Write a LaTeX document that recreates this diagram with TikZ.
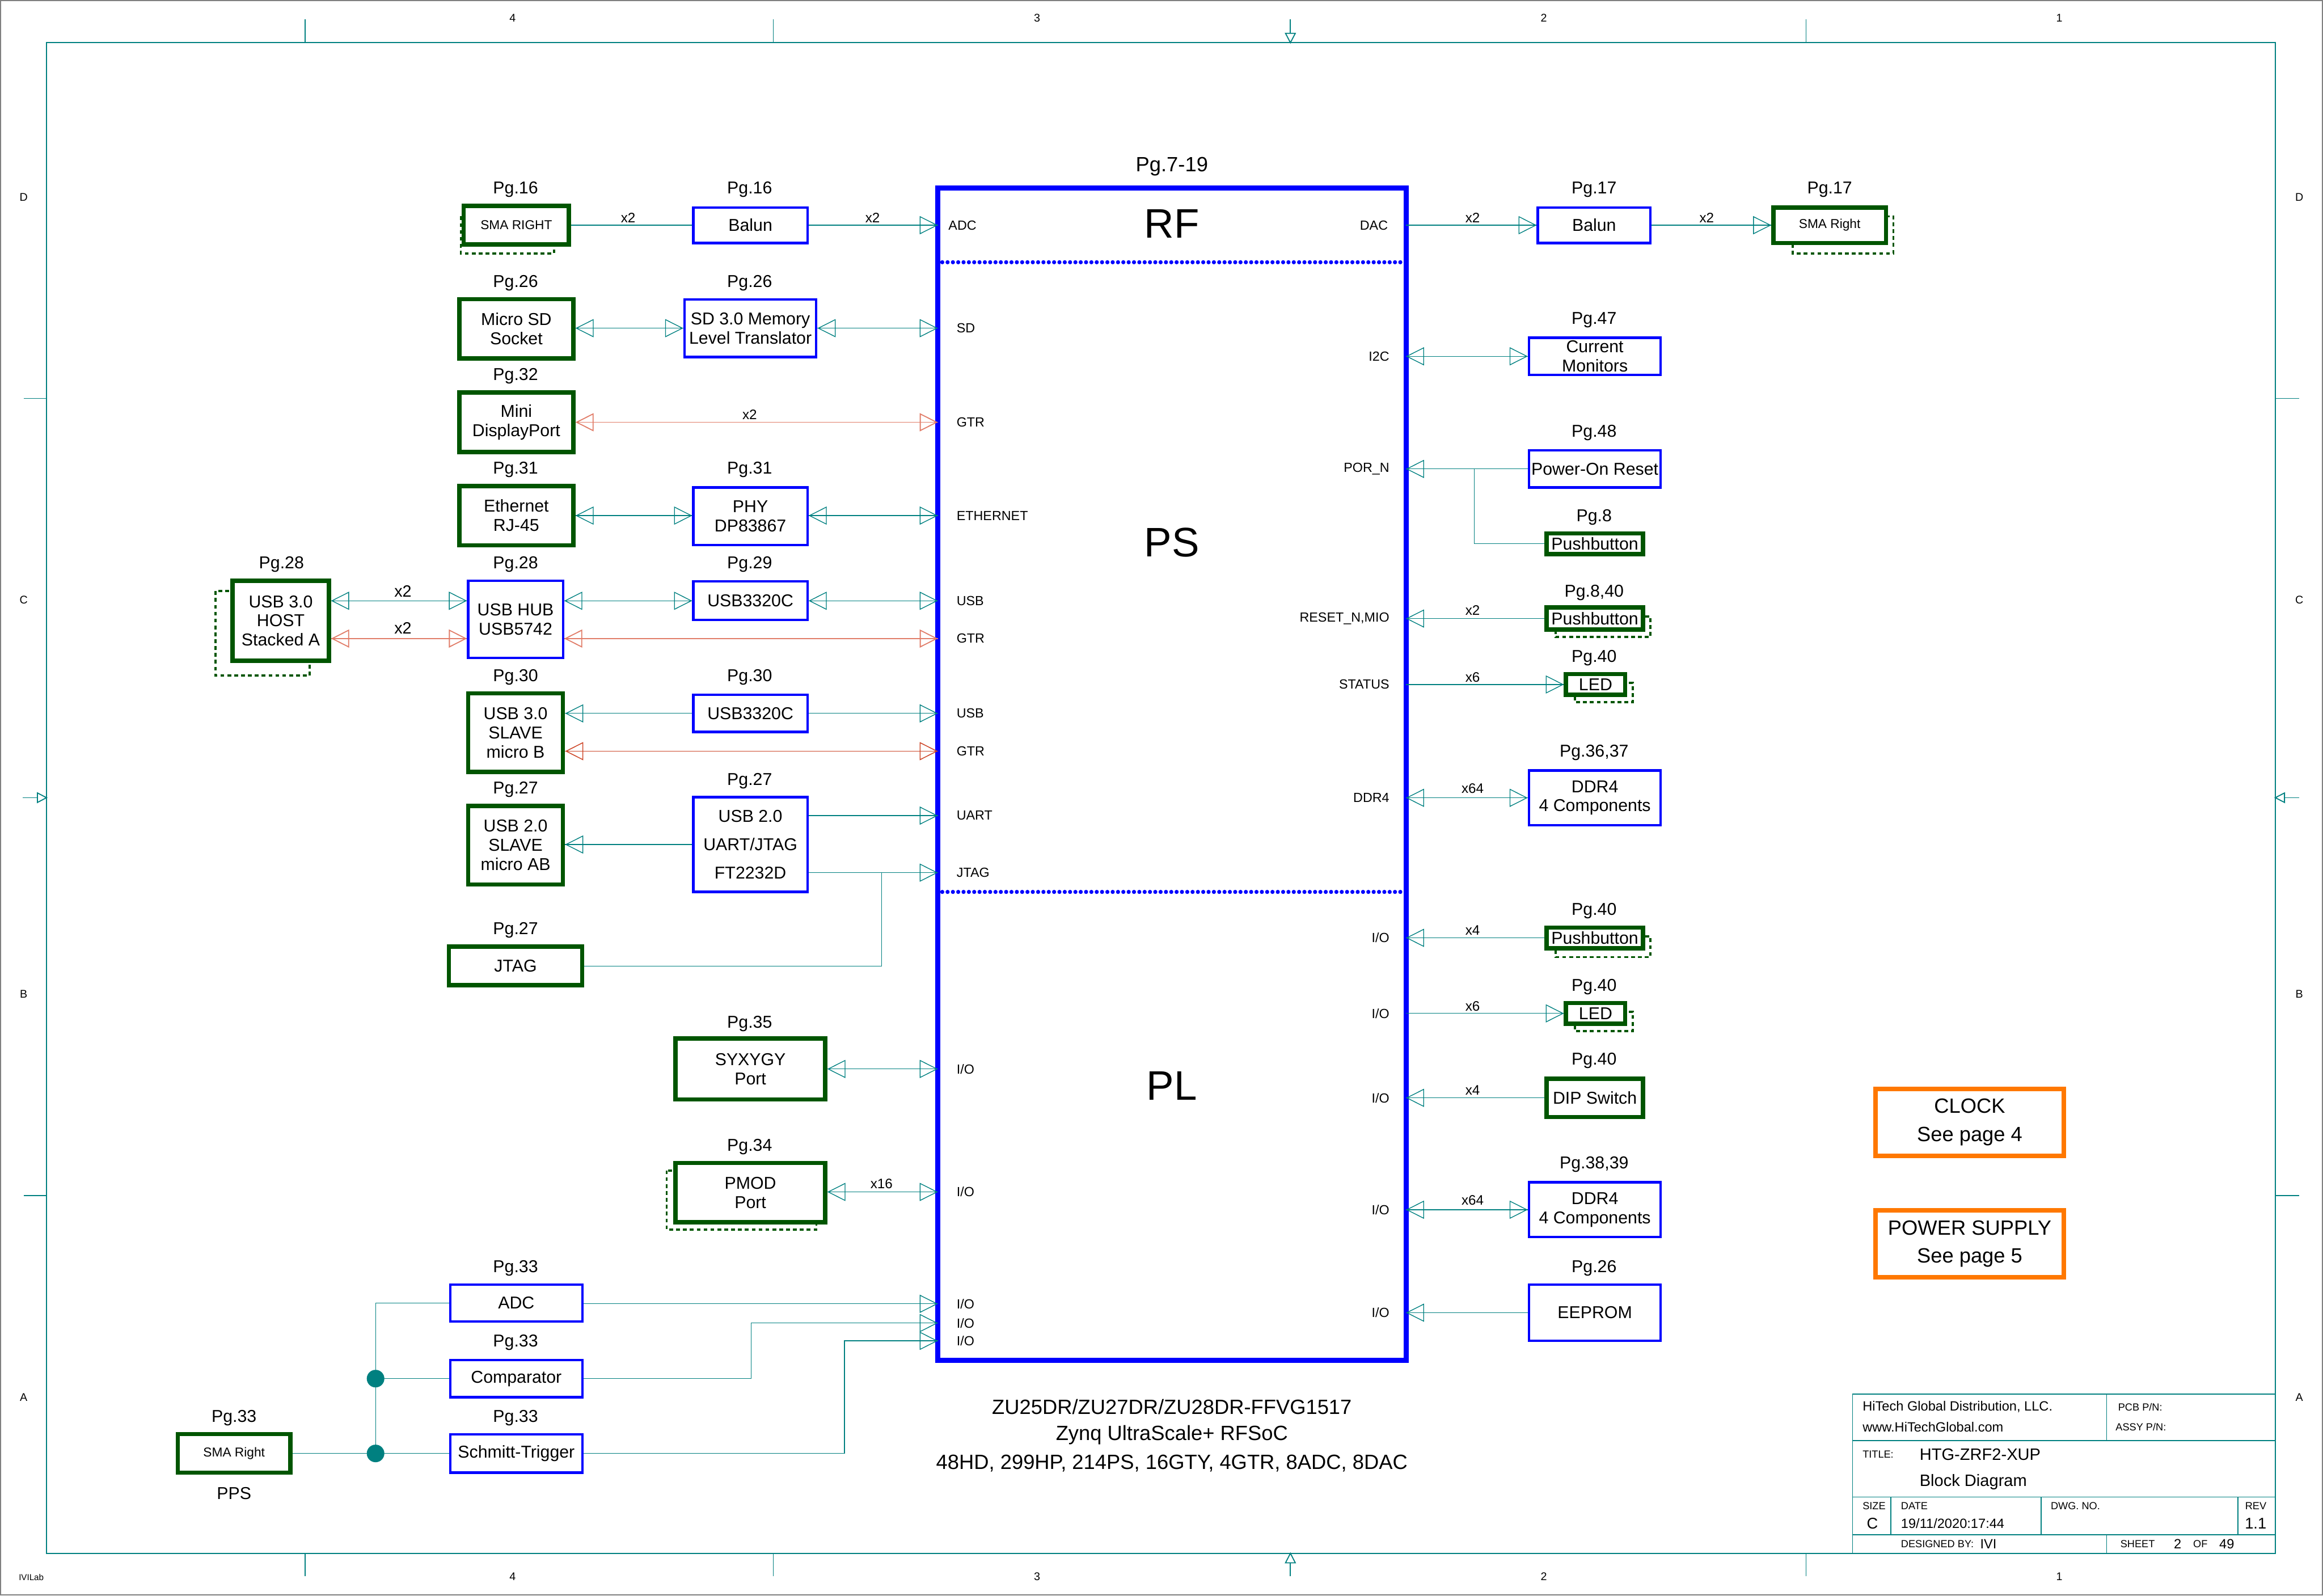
\documentclass[tikz,border=0pt]{standalone}
\usepackage{fontspec}
\setmainfont{Liberation Sans}
\usetikzlibrary{arrows.meta}
\definecolor{tealc}{RGB}{0,128,128}
\definecolor{gcol}{RGB}{0,85,0}
\definecolor{bcol}{RGB}{0,0,255}
\definecolor{ocol}{RGB}{255,120,0}
\definecolor{gtrc}{RGB}{225,125,105}
\definecolor{gtrd}{RGB}{205,70,40}
\def\U{0.30306mm}
\newcommand\fBox{\fontsize{10}{11.2}\selectfont}
\newcommand\fBoxW{\fontsize{10}{16.4}\selectfont}
\newcommand\fPg{\fontsize{10}{12}\selectfont}
\newcommand\fPin{\fontsize{7.7}{9}\selectfont}
\newcommand\fX{\fontsize{8}{9}\selectfont}
\newcommand\fXb{\fontsize{9.5}{11}\selectfont}
\newcommand\fSma{\fontsize{7.5}{9}\selectfont}
\newcommand\fBig{\fontsize{24}{28}\selectfont}
\newcommand\fChip{\fontsize{12}{14}\selectfont}
\newcommand\fOr{\fontsize{12}{16.4}\selectfont}
\newcommand\fTbS{\fontsize{6}{7}\selectfont}
\newcommand\fTbM{\fontsize{7.8}{9}\selectfont}
\newcommand\fTbL{\fontsize{9.6}{11}\selectfont}
\newcommand\fEdge{\fontsize{6.5}{7.5}\selectfont}
\newcommand\fTiny{\fontsize{5}{6}\selectfont}
\tikzset{
  sz/.style 2 args={minimum width=#1*\U, minimum height=#2*\U},
  gbox/.style={draw=gcol, line width=2.5pt, fill=white, inner sep=0pt, align=center, font=\fBox},
  bbox/.style={draw=bcol, line width=1.4pt, fill=white, inner sep=0pt, align=center, font=\fBox},
  obox/.style={draw=ocol, line width=2.6pt, fill=white, inner sep=0pt, align=center, font=\fOr},
  shadowbox/.style={draw=gcol, line width=1.2pt, dash pattern=on 2.2pt off 1.8pt},
  conn/.style={draw=tealc, line width=0.45pt, postaction={draw,-}},
  gtr/.style={draw=gtrc, line width=0.6pt, postaction={draw,-}},
  gtrdark/.style={draw=gtrd, line width=0.5pt, postaction={draw,-}},
  pg/.style={font=\fPg, inner sep=0pt, yshift=-0.3mm},
  pinl/.style={font=\fPin, inner sep=0pt, anchor=west},
  pinr/.style={font=\fPin, inner sep=0pt, anchor=east},
  xl/.style={font=\fX, inner sep=0pt},
  tb/.style={draw=tealc, line width=0.55pt},
  tick/.style={draw=tealc, line width=0.45pt},
  fmark/.style={draw=tealc, line width=0.6pt},
  sepline/.style={draw=bcol, line width=2.4pt, line cap=round, dash pattern=on 0pt off 3.1pt},
  dotj/.style={circle, fill=tealc, inner sep=0pt, minimum size=3.6mm},
  edge/.style={font=\fEdge, inner sep=0pt},
}
\begin{document}
\begin{tikzpicture}[x=0.30306mm, y=-0.30306mm, >={Triangle[open,length=3.7mm,width=3.7mm]}]
\useasboundingbox (0,0) rectangle (1568,1077);
\draw[gray, line width=0.6pt] (0.5,0.5) rectangle (1567.5,1076.5);

% ---------- sheet frame ----------
\draw[draw=tealc, line width=0.6pt] (31.4,28.8) rectangle (1535.8,1048.4);
\foreach \x in {206,522,1219} {
  \draw[tick] (\x,13) -- (\x,28.8);
  \draw[tick] (\x,1048.4) -- (\x,1064);
}
\foreach \y in {269,807} {
  \draw[tick] (16,\y) -- (31.4,\y);
  \draw[tick] (1535.8,\y) -- (1552,\y);
}
\draw[fmark] (871,13) -- (871,22.5);
\draw[fmark] (867.7,22.5) -- (874.3,22.5) -- (871,28.8) -- cycle;
\draw[fmark] (871,1064) -- (871,1054.8);
\draw[fmark] (867.7,1054.8) -- (874.3,1054.8) -- (871,1048.4) -- cycle;
\draw[fmark] (15.4,538.4) -- (25.3,538.4);
\draw[fmark] (25.3,535.2) -- (25.3,541.6) -- (31.4,538.4) -- cycle;
\draw[fmark] (1552,538.4) -- (1542,538.4);
\draw[fmark] (1542,535.2) -- (1542,541.6) -- (1535.8,538.4) -- cycle;
\node[edge] (c4t) at (346,12) {4};
\node[edge] (c3t) at (700,12) {3};
\node[edge] (c2t) at (1042,12) {2};
\node[edge] (c1t) at (1390,12) {1};
\node[edge] (c4b) at (346,1064) {4};
\node[edge] (c3b) at (700,1064) {3};
\node[edge] (c2b) at (1042,1064) {2};
\node[edge] (c1b) at (1390,1064) {1};
\node[edge] (rDl) at (16,133) {D};
\node[edge] (rCl) at (16,405) {C};
\node[edge] (rBl) at (16,671) {B};
\node[edge] (rAl) at (16,943) {A};
\node[edge] (rDr) at (1552,133) {D};
\node[edge] (rCr) at (1552,405) {C};
\node[edge] (rBr) at (1552,671) {B};
\node[edge] (rAr) at (1552,943) {A};
\node[font=\fTiny, inner sep=0pt, anchor=west] (ivilab) at (12.5,1064.5) {IVILab};

% ---------- main device ----------
\node[draw=bcol, line width=3pt, sz={316}{791}] (chip) at (791,522.5) {};
\draw[sepline] (636,177) -- (946,177);
\draw[sepline] (636,602) -- (946,602);
\node[font=\fontsize{12}{14}\selectfont, inner sep=0pt] (pgchip) at (791,112.5) {Pg.7-19};
\node[font=\fBig, inner sep=0pt] (rf) at (791,151) {RF};
\node[font=\fBig, inner sep=0pt] (ps) at (791,366) {PS};
\node[font=\fBig, inner sep=0pt] (pl) at (791,733) {PL};
\node[font=\fChip, inner sep=0pt] (d1) at (791,949.5) {ZU25DR/ZU27DR/ZU28DR-FFVG1517};
\node[font=\fChip, inner sep=0pt] (d2) at (791,968.5) {Zynq UltraScale+ RFSoC};
\node[font=\fChip, inner sep=0pt] (d3) at (791,987.5) {48HD, 299HP, 214PS, 16GTY, 4GTR, 8ADC, 8DAC};

% left pins
\node[pinl] (pADC) at (640,152) {ADC};
\node[pinl] (pSD) at (645.5,221.5) {SD};
\node[pinl] (pGTR1) at (645.5,285) {GTR};
\node[pinl] (pETH) at (645.5,348) {ETHERNET};
\node[pinl] (pUSB1) at (645.5,405.5) {USB};
\node[pinl] (pGTR2) at (645.5,431) {GTR};
\node[pinl] (pUSB2) at (645.5,481.5) {USB};
\node[pinl] (pGTR3) at (645.5,507) {GTR};
\node[pinl] (pUART) at (645.5,550.5) {UART};
\node[pinl] (pJTAG) at (645.5,589) {JTAG};
\node[pinl] (pIO1) at (645.5,721.5) {I/O};
\node[pinl] (pIO2) at (645.5,804.5) {I/O};
\node[pinl] (pIO3) at (645.5,880) {I/O};
\node[pinl] (pIO4) at (645.5,893) {I/O};
\node[pinl] (pIO5) at (645.5,905) {I/O};
% right pins
\node[pinr] (pDAC) at (937,152) {DAC};
\node[pinr] (pI2C) at (938,240.5) {I2C};
\node[pinr] (pPOR) at (938,316.5) {POR\_N};
\node[pinr] (pRST) at (938,417.5) {RESET\_N,MIO};
\node[pinr] (pSTA) at (938,462) {STATUS};
\node[pinr] (pDDR) at (938,538.5) {DDR4};
\node[pinr] (pIOr1) at (938,633) {I/O};
\node[pinr] (pIOr2) at (938,684) {I/O};
\node[pinr] (pIOr3) at (938,741) {I/O};
\node[pinr] (pIOr4) at (938,816.5) {I/O};
\node[pinr] (pIOr5) at (938,886) {I/O};

% chip edge points
\coordinate (cADC) at (633,152);
\coordinate (cSD) at (633,221.5);
\coordinate (cGTR1) at (633,285);
\coordinate (cETH) at (633,348);
\coordinate (cUSB1) at (633,405.5);
\coordinate (cGTR2) at (633,431);
\coordinate (cUSB2) at (633,481.5);
\coordinate (cGTR3) at (633,507);
\coordinate (cUART) at (633,550.5);
\coordinate (cJTAG) at (633,589);
\coordinate (cIO1) at (633,721.5);
\coordinate (cIO2) at (633,804.5);
\coordinate (cIO3) at (633,880);
\coordinate (cIO4) at (633,893);
\coordinate (cIO5) at (633,905);
\coordinate (cDAC) at (949,152);
\coordinate (cI2C) at (949,240.5);
\coordinate (cPOR) at (949,316.5);
\coordinate (cRST) at (949,417.5);
\coordinate (cSTA) at (949,462);
\coordinate (cDDR) at (949,538.5);
\coordinate (cIOr1) at (949,633);
\coordinate (cIOr2) at (949,684);
\coordinate (cIOr3) at (949,741);
\coordinate (cIOr4) at (949,816.5);
\coordinate (cIOr5) at (949,886);

% ---------- dashed shadows ----------
\draw[shadowbox] (311,146) rectangle (374,171);
\draw[shadowbox] (145.5,399) rectangle (209,456);
\draw[shadowbox] (450,790) rectangle (551,830);
\draw[shadowbox] (1210,146) rectangle (1278,171);
\draw[shadowbox] (1050,416) rectangle (1114,430);
\draw[shadowbox] (1063,461) rectangle (1102,474);
\draw[shadowbox] (1050,632) rectangle (1114,646);
\draw[shadowbox] (1063,683) rectangle (1102,696);

% ---------- left blocks ----------
\node[pg] (g1) at (348,127) {Pg.16};
\node[gbox, sz={71}{26}, font=\fSma] (smaL) at (348.5,152) {SMA RIGHT};
\node[pg] (g2) at (506,127) {Pg.16};
\node[bbox, sz={77}{24}] (balL) at (506.5,152) {Balun};
\node[pg] (g3) at (348,190) {Pg.26};
\node[gbox, sz={77}{40}] (msd) at (348.5,222) {Micro SD\\Socket};
\node[pg] (g4) at (506,190) {Pg.26};
\node[bbox, sz={89}{39}] (sdt) at (506.5,221.5) {SD 3.0 Memory\\Level Translator};
\node[pg] (g5) at (348,253) {Pg.32};
\node[gbox, sz={77}{40}] (mdp) at (348.5,285) {Mini\\DisplayPort};
\node[pg] (g6) at (348,316) {Pg.31};
\node[gbox, sz={77}{40}] (eth) at (348.5,348) {Ethernet\\RJ-45};
\node[pg] (g7) at (506,316) {Pg.31};
\node[bbox, sz={77}{39}] (phy) at (506.5,348.5) {PHY\\DP83867};
\node[pg] (g8) at (190,380) {Pg.28};
\node[gbox, sz={65}{54}] (host) at (189.5,419) {USB 3.0\\HOST\\Stacked A};
\node[pg] (g9) at (348,380) {Pg.28};
\node[bbox, sz={64}{52}] (hub) at (348,418) {USB HUB\\USB5742};
\node[pg] (g10) at (506,380) {Pg.29};
\node[bbox, sz={77}{26}] (u29) at (506.5,405.5) {USB3320C};
\node[pg] (g11) at (348,456) {Pg.30};
\node[gbox, sz={64}{53}] (slv) at (348,494.5) {USB 3.0\\SLAVE\\micro B};
\node[pg] (g12) at (506,456) {Pg.30};
\node[bbox, sz={77}{25}] (u30) at (506.5,481.5) {USB3320C};
\node[pg] (g13) at (348,532) {Pg.27};
\node[gbox, sz={64}{53}] (sab) at (348,570.5) {USB 2.0\\SLAVE\\micro AB};
\node[pg] (g14) at (506,526) {Pg.27};
\node[bbox, sz={77}{64}, font=\fBoxW] (ftd) at (506.5,570) {USB 2.0\\UART/JTAG\\FT2232D};
\node[pg] (g15) at (348,627) {Pg.27};
\node[gbox, sz={90}{26}] (jtg) at (348,652) {JTAG};
\node[pg] (g16) at (506,690) {Pg.35};
\node[gbox, sz={101}{41}] (syx) at (506.5,721.5) {SYXYGY\\Port};
\node[pg] (g17) at (506,773) {Pg.34};
\node[gbox, sz={101}{40}] (pmd) at (506.5,805) {PMOD\\Port};
\node[pg] (g18) at (348,855) {Pg.33};
\node[bbox, sz={89}{25}] (adc) at (348.5,879.5) {ADC};
\node[pg] (g19) at (348,905) {Pg.33};
\node[bbox, sz={89}{25}] (cmp) at (348.5,930.5) {Comparator};
\node[pg] (g20) at (348,956) {Pg.33};
\node[bbox, sz={89}{26}] (sch) at (348.5,981) {Schmitt-Trigger};
\node[pg] (g21) at (158,956) {Pg.33};
\node[gbox, sz={76}{26}, font=\fSma] (smaP) at (158,981) {SMA Right};
\node[pg] (pps) at (158,1007) {PPS};

% ---------- right blocks ----------
\node[pg] (h1) at (1076,127) {Pg.17};
\node[bbox, sz={76}{24}] (balR) at (1076,152) {Balun};
\node[pg] (h2) at (1235,127) {Pg.17};
\node[gbox, sz={76}{24}, font=\fSma] (smaR) at (1235,152) {SMA Right};
\node[pg] (h3) at (1076,215) {Pg.47};
\node[bbox, sz={89}{25}] (cmon) at (1076.5,240.5) {Current\\Monitors};
\node[pg] (h4) at (1076,291) {Pg.48};
\node[bbox, sz={89}{25}] (por) at (1076.5,316.5) {Power-On Reset};
\node[pg] (h5) at (1076,348) {Pg.8};
\node[gbox, sz={65}{14}] (pb8) at (1076.5,367) {Pushbutton};
\node[pg] (h6) at (1076,399) {Pg.8,40};
\node[gbox, sz={65}{15}] (pb840) at (1076.5,417.5) {Pushbutton};
\node[pg] (h7) at (1076,443) {Pg.40};
\node[gbox, sz={40}{14}] (led1) at (1077,462) {LED};
\node[pg] (h8) at (1076,507) {Pg.36,37};
\node[bbox, sz={89}{37}] (ddr1) at (1076.5,538.5) {DDR4\\4 Components};
\node[pg] (h9) at (1076,614) {Pg.40};
\node[gbox, sz={65}{14}] (pb40) at (1076.5,633) {Pushbutton};
\node[pg] (h10) at (1076,665) {Pg.40};
\node[gbox, sz={40}{14}] (led2) at (1077,684) {LED};
\node[pg] (h11) at (1076,715) {Pg.40};
\node[gbox, sz={65}{26}] (dip) at (1076.5,741) {DIP Switch};
\node[pg] (h12) at (1076,785) {Pg.38,39};
\node[bbox, sz={89}{37}] (ddr2) at (1076.5,816.5) {DDR4\\4 Components};
\node[pg] (h13) at (1076,855) {Pg.26};
\node[bbox, sz={89}{38}] (eep) at (1076.5,886) {EEPROM};

\node[obox, sz={127}{45}] (clk) at (1329.5,757.5) {CLOCK\\See page 4};
\node[obox, sz={127}{45}] (pwr) at (1329.5,839.5) {POWER SUPPLY\\See page 5};

% ---------- left connectors ----------
\draw[conn] (smaL) -- (balL);
\node[xl] (x1) at (424,147) {x2};
\draw[conn,->] (balL) -- (cADC);
\node[xl] (x2) at (589,147) {x2};
\draw[conn,<->] (msd.east |- cSD) -- (sdt.west |- cSD);
\draw[conn,<->] (sdt.east |- cSD) -- (cSD);
\draw[gtr,<->] (mdp.east) -- (cGTR1);
\node[xl] (x3) at (506,280) {x2};
\draw[conn,<->] (eth.east) -- (phy.west |- eth.east);
\draw[conn,<->] (phy.east |- cETH) -- (cETH);
\draw[conn,<->] (host.east |- cUSB1) -- (hub.west |- cUSB1);
\node[font=\fXb, inner sep=0pt] (x4) at (272,399) {x2};
\draw[gtr,<->] (host.east |- cGTR2) -- (hub.west |- cGTR2);
\node[font=\fXb, inner sep=0pt] (x5) at (272,424) {x2};
\draw[conn,<->] (hub.east |- cUSB1) -- (u29.west);
\draw[conn,<->] (u29.east) -- (cUSB1);
\draw[gtr,<->] (hub.east |- cGTR2) -- (cGTR2);
\draw[conn,->] (u30.west) -- (slv.east |- u30.west);
\draw[conn,->] (u30.east) -- (cUSB2);
\draw[gtrdark,<->] (slv.east |- cGTR3) -- (cGTR3);
\draw[conn,->] (ftd.east |- cUART) -- (cUART);
\draw[conn,->] (ftd.east |- cJTAG) -- (cJTAG);
\draw[conn,->] (ftd.west) -- (sab.east |- ftd.west);
\coordinate (jbr) at (595,589);
\draw[conn] (jtg.east) -| (jbr);
\draw[conn,<->] (syx.east) -- (cIO1);
\draw[conn,<->] (pmd.east |- cIO2) -- (cIO2);
\node[xl] (x6) at (595,799) {x16};
\draw[conn,->] (adc.east |- cIO3) -- (cIO3);
\coordinate (kc) at (507,893);
\coordinate (ks) at (570,905);
\draw[conn,->] (cmp.east) -| (kc) -- (cIO4);
\draw[conn,->] (sch.east) -| (ks) -- (cIO5);
\coordinate (j1p) at (253.5,930.5);
\coordinate (j2p) at (253.5,981);
\draw[conn] (smaP) -- (sch);
\draw[conn] (j1p) -- (cmp);
\draw[conn] (adc.west) -| (j2p);
\node[dotj] (j1) at (j1p) {};
\node[dotj] (j2) at (j2p) {};

% ---------- right connectors ----------
\draw[conn,->] (cDAC) -- (balR);
\node[xl] (y1) at (994,147) {x2};
\draw[conn,->] (balR) -- (smaR);
\node[xl] (y2) at (1152,147) {x2};
\draw[conn,<->] (cI2C) -- (cmon);
\draw[conn,->] (por) -- (cPOR);
\coordinate (pbr) at (995,316.5);
\draw[conn] (pb8.west) -| (pbr);
\draw[conn,->] (pb840) -- (cRST);
\node[xl] (y3) at (994,412) {x2};
\draw[conn,->] (cSTA) -- (led1);
\node[xl] (y4) at (994,457) {x6};
\draw[conn,<->] (cDDR) -- (ddr1);
\node[xl] (y5) at (994,532) {x64};
\draw[conn,->] (pb40) -- (cIOr1);
\node[xl] (y6) at (994,628) {x4};
\draw[conn,->] (cIOr2) -- (led2);
\node[xl] (y7) at (994,679) {x6};
\draw[conn,->] (dip) -- (cIOr3);
\node[xl] (y8) at (994,736) {x4};
\draw[conn,<->] (cIOr4) -- (ddr2);
\node[xl] (y9) at (994,810) {x64};
\draw[conn,->] (eep) -- (cIOr5);

% ---------- title block ----------
\draw[tb] (1250.5,941) rectangle (1535.8,1048.4);
\draw[tb] (1250.5,972.4) -- (1535.8,972.4);
\draw[tb] (1250.5,1010.4) -- (1535.8,1010.4);
\draw[tb] (1250.5,1035.8) -- (1535.8,1035.8);
\draw[tb] (1421.9,941) -- (1421.9,972.4);
\draw[tb] (1276.2,1010.4) -- (1276.2,1035.8);
\draw[tb] (1377.6,1010.4) -- (1377.6,1035.8);
\draw[tb] (1510.6,1010.4) -- (1510.6,1035.8);
\draw[tb] (1421.9,1035.8) -- (1421.9,1048.4);
\node[font=\fTbM, inner sep=0pt, anchor=west] (tb1) at (1257,949.7) {HiTech Global Distribution, LLC.};
\node[font=\fTbM, inner sep=0pt, anchor=west] (tb2) at (1257,963) {www.HiTechGlobal.com};
\node[font=\fTbS, inner sep=0pt, anchor=west] (tb3) at (1429.5,949.7) {PCB P/N:};
\node[font=\fTbS, inner sep=0pt, anchor=west] (tb4) at (1427.8,963) {ASSY P/N:};
\node[font=\fTbS, inner sep=0pt, anchor=west] (tb5) at (1257,981.7) {TITLE:};
\node[font=\fTbL, inner sep=0pt, anchor=west] (tb6) at (1295.5,981.7) {HTG-ZRF2-XUP};
\node[font=\fTbL, inner sep=0pt, anchor=west] (tb7) at (1295.5,1000.4) {Block Diagram};
\node[font=\fTbS, inner sep=0pt, anchor=west] (tb8) at (1257,1016.5) {SIZE};
\node[font=\fontsize{9}{10}\selectfont, inner sep=0pt] (tb9) at (1263.8,1028.4) {C};
\node[font=\fTbS, inner sep=0pt, anchor=west] (tb10) at (1282.9,1016.5) {DATE};
\node[font=\fTbM, inner sep=0pt, anchor=west] (tb11) at (1282.9,1028.4) {19/11/2020:17:44};
\node[font=\fTbS, inner sep=0pt, anchor=west] (tb12) at (1384,1016.5) {DWG. NO.};
\node[font=\fTbS, inner sep=0pt, anchor=east] (tb13) at (1530,1016.5) {REV};
\node[font=\fontsize{9}{10}\selectfont, inner sep=0pt, anchor=east] (tb14) at (1530,1028.4) {1.1};
\node[font=\fTbS, inner sep=0pt, anchor=west] (tb15) at (1282.9,1042.1) {DESIGNED BY:};
\node[font=\fTbM, inner sep=0pt, anchor=west] (tb16) at (1336.4,1042.1) {IVI};
\node[font=\fTbS, inner sep=0pt, anchor=west] (tb17) at (1431,1042.1) {SHEET};
\node[font=\fTbM, inner sep=0pt] (tb18) at (1469.9,1042.1) {2};
\node[font=\fTbS, inner sep=0pt] (tb19) at (1485.2,1042.1) {OF};
\node[font=\fTbM, inner sep=0pt] (tb20) at (1503,1042.1) {49};
\end{tikzpicture}
\end{document}
